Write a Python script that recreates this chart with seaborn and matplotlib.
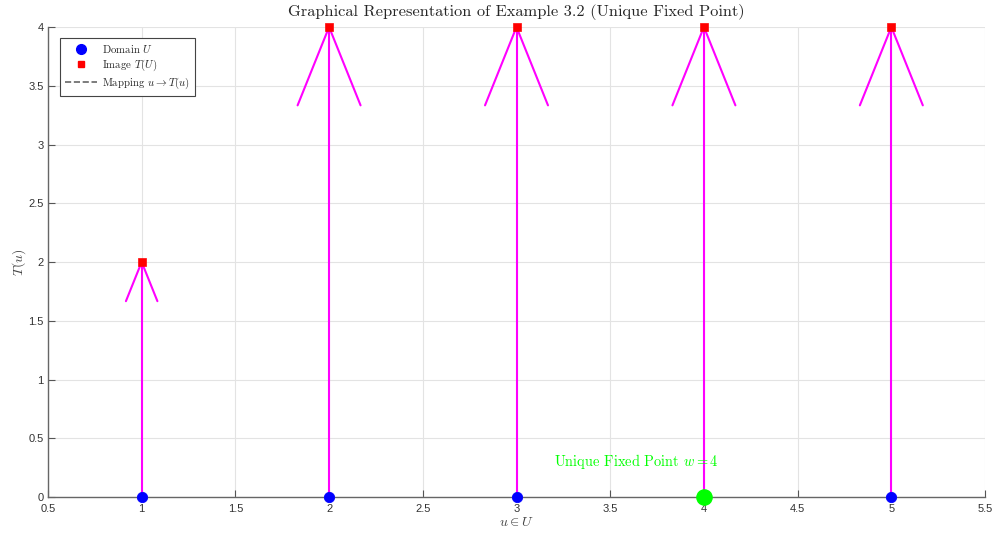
import numpy as np
import matplotlib.pyplot as plt
import pandas as pd
import seaborn as sns
from matplotlib.lines import Line2D

# data
u_vals = [1, 2, 3, 4, 5]
T_vals = [2, 4, 4, 4, 4]
fixed_point = 4

sns.set_style("whitegrid")
plt.rcParams['font.family'] = ['Liberation Sans', 'DejaVu Sans']
plt.rcParams['mathtext.fontset'] = 'cm'

df = pd.DataFrame({'u': u_vals, 'T': T_vals, 'zero': [0] * len(u_vals)})

fig = plt.figure(figsize=(9.95, 5.35), dpi=100)
ax = fig.add_axes([0.0482, 0.071, 0.9418, 0.8785])

# mapping arrows (stem + open head scaled with length, quiver-like)
mag = '#ff00ff'
for u, t in zip(u_vals, T_vals):
    ax.plot([u, u], [0, t], color=mag, lw=1.5, zorder=2)
    hl = t / 6.0
    hw = t * 0.042
    ax.plot([u - hw, u, u + hw], [t - hl, t, t - hl], color=mag, lw=1.5, zorder=2)

sns.scatterplot(data=df, x='u', y='zero', ax=ax, color='blue', marker='o', s=55,
                edgecolor='blue', zorder=4, legend=False, clip_on=False)
sns.scatterplot(data=df, x='u', y='T', ax=ax, color='red', marker='s', s=35,
                edgecolor='red', zorder=4, legend=False, clip_on=False)
ax.scatter([fixed_point], [0], s=120, color='#00ff00', zorder=5, clip_on=False)
ax.text(3.2, 0.3, 'Unique Fixed Point $w = 4$', color='#00ff00', fontsize=10.4,
        family='cmr10', va='center', ha='left')

ax.set_xlim(0.5, 5.5)
ax.set_ylim(0, 4)
ax.set_xticks(np.arange(0.5, 5.51, 0.5))
ax.set_yticks(np.arange(0, 4.01, 0.5))
ax.set_xticklabels(['0.5', '1', '1.5', '2', '2.5', '3', '3.5', '4', '4.5', '5', '5.5'])
ax.set_yticklabels(['0', '0.5', '1', '1.5', '2', '2.5', '3', '3.5', '4'])
ax.tick_params(direction='in', length=5, width=0.8, color='#555555',
               labelsize=8, labelcolor='#333333', pad=3)
ax.tick_params(axis='x', top=False, bottom=True, pad=5)
ax.tick_params(axis='y', left=True, right=False)
ax.grid(True, color='#e3e3e3', lw=0.8)
ax.set_axisbelow(True)
for s in ['top', 'right']:
    ax.spines[s].set_visible(False)
for s in ['left', 'bottom']:
    ax.spines[s].set_color('#666666')
    ax.spines[s].set_linewidth(1.0)

ax.set_xlabel('$u \\in U$', fontsize=10, color='#444444', labelpad=1)
ax.set_ylabel('$T(u)$', fontsize=10, color='#444444', labelpad=0)
ax.set_title('Graphical Representation of Example 3.2 (Unique Fixed Point)',
             fontsize=11.8, family='cmr10', pad=8)

handles = [
    Line2D([], [], marker='o', color='blue', ls='none', markersize=7),
    Line2D([], [], marker='s', color='red', ls='none', markersize=5),
    Line2D([], [], color='#666666', ls='--', lw=1.2),
]
labels = ['Domain $U$', 'Image $T(U)$', 'Mapping $u \\rightarrow T(u)$']
leg = ax.legend(handles, labels, loc='upper left', bbox_to_anchor=(0.0128, 0.977),
                borderaxespad=0, frameon=True, fancybox=False, borderpad=0.45,
                handlelength=3.0, handletextpad=0.4, labelspacing=0.25,
                prop={'family': 'cmr10', 'size': 7.8})
leg.get_frame().set_edgecolor('#444444')
leg.get_frame().set_linewidth(0.8)
leg.get_frame().set_alpha(1)

fig.savefig('out.png', dpi=100)
